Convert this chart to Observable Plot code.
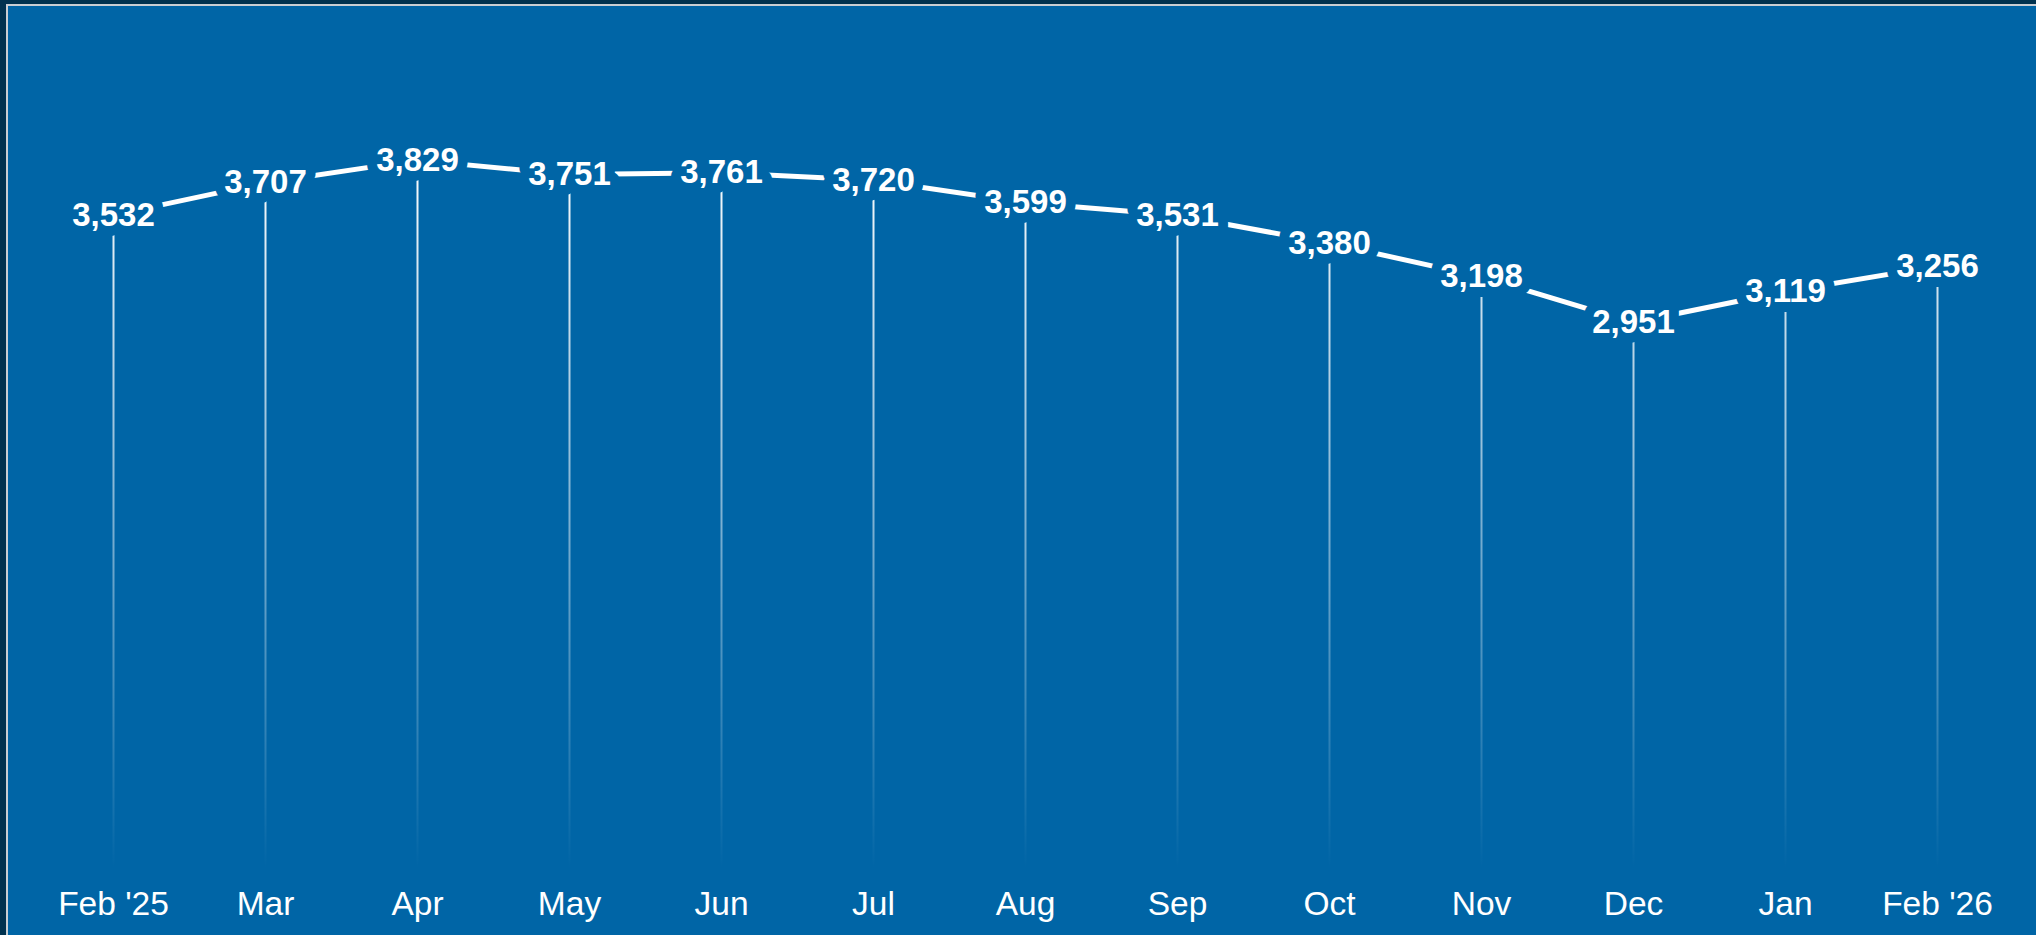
<!DOCTYPE html>
<html>
<head>
<meta charset="utf-8">
<script src="https://cdn.jsdelivr.net/npm/d3@7"></script>
<script src="https://cdn.jsdelivr.net/npm/@observablehq/plot@0.6"></script>
<style>
  html, body { margin: 0; padding: 0; width: 2036px; height: 935px; overflow: hidden; background: #00324f; }
  #box { position: absolute; left: 6px; top: 4px; width: 2040px; height: 940px; border: 2px solid #c9ced3; background: #0065a6; }
  #chart { position: absolute; left: 0; top: 0; }
</style>
</head>
<body>
<div id="box"><div id="chart"></div></div>
<script>
const months = ["Feb '25", "Mar", "Apr", "May", "Jun", "Jul", "Aug", "Sep", "Oct", "Nov", "Dec", "Jan", "Feb '26"];
const values = [3532, 3707, 3829, 3751, 3761, 3720, 3599, 3531, 3380, 3198, 2951, 3119, 3256];

const data = months.map((m, i) => ({month: m, value: values[i]}));
const bg = "#0065a6";

const W = 2028, H = 929;
const chart = Plot.plot({
  width: W,
  height: H,
  marginLeft: 105,
  marginRight: 99,
  marginTop: 122,
  marginBottom: 67,
  style: {background: "transparent", color: "white", fontFamily: "'Liberation Sans', Arial, sans-serif", fontSize: "33px", overflow: "visible"},
  x: {type: "point", domain: months, padding: 0, label: null},
  y: {domain: [0, 4000], axis: null},
  marks: [
    Plot.ruleX(data, {x: "month", y1: 0, y2: "value", stroke: "url(#fade)", strokeWidth: 2}),
    Plot.line(data, {x: "month", y: "value", stroke: "white", strokeWidth: 5}),
    Plot.text(data, {x: "month", y: "value", text: d => d3.format(",")(d.value), fill: "white", stroke: bg, strokeWidth: 20, strokeLinejoin: "round", fontWeight: "bold", fontSize: 33, lineAnchor: "middle"}),
    Plot.axisX({tickSize: 0, tickPadding: 23, fontSize: 33.5, fill: "white", label: null})
  ]
});

const ns = "http://www.w3.org/2000/svg";
const defs = document.createElementNS(ns, "defs");
defs.innerHTML = `<linearGradient id="fade" gradientUnits="userSpaceOnUse" x1="0" y1="150" x2="0" y2="862">
  <stop offset="0" stop-color="white" stop-opacity="1"/>
  <stop offset="1" stop-color="white" stop-opacity="0"/>
</linearGradient>`;
chart.insertBefore(defs, chart.firstChild);
document.getElementById("chart").appendChild(chart);
</script>
</body>
</html>
